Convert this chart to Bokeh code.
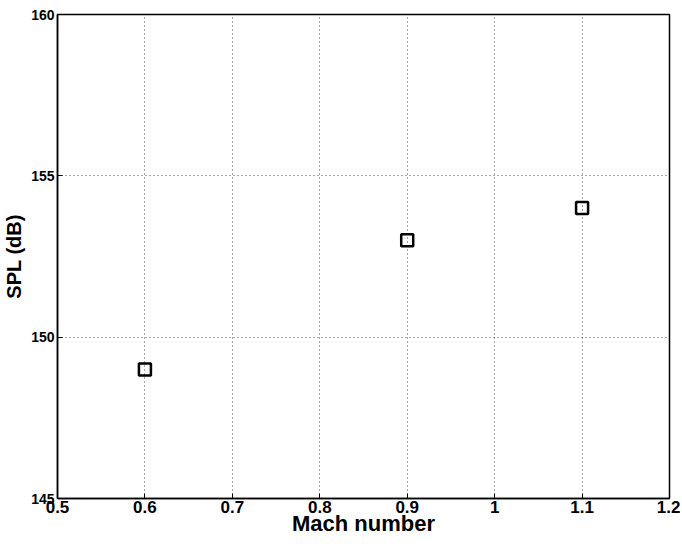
from bokeh.plotting import figure
from bokeh.models import FixedTicker, Range1d
from bokeh.embed import file_html
from bokeh.resources import INLINE

mach = [0.6, 0.9, 1.1]
spl = [149.0, 153.0, 154.0]
x_ticks = [0.5, 0.6, 0.7, 0.8, 0.9, 1.0, 1.1, 1.2]
x_labels = {0.5: "0.5", 0.6: "0.6", 0.7: "0.7", 0.8: "0.8", 0.9: "0.9", 1.0: "1", 1.1: "1.1", 1.2: "1.2"}
y_ticks = [145, 150, 155, 160]

p = figure(width=680, height=544, output_backend="svg", toolbar_location=None,
           x_range=Range1d(0.5, 1.2), y_range=Range1d(145, 160),
           min_border_left=54, min_border_top=14, min_border_right=11, min_border_bottom=46)
p.background_fill_color = "white"
p.border_fill_color = "white"
p.outline_line_color = "black"
p.outline_line_width = 1.5

for ax in (p.xaxis[0], p.yaxis[0]):
    ax.axis_line_color = "black"
    ax.axis_line_width = 1.5
    ax.major_tick_in = 5
    ax.major_tick_out = 0
    ax.minor_tick_line_color = None
    ax.major_label_text_font = "Liberation Sans"
    ax.major_label_text_font_style = "bold"
    ax.major_label_text_color = "black"
    ax.axis_label_text_font = "Liberation Sans"
    ax.axis_label_text_font_style = "bold"
    ax.axis_label_text_color = "black"

p.xaxis.ticker = FixedTicker(ticks=x_ticks)
p.xaxis.major_label_overrides = x_labels
p.yaxis.ticker = FixedTicker(ticks=y_ticks)
p.xaxis.major_label_text_font_size = "17px"
p.yaxis.major_label_text_font_size = "14px"
p.xaxis.major_label_standoff = 2
p.yaxis.major_label_standoff = 3
p.xaxis.axis_label = "Mach number"
p.yaxis.axis_label = "SPL (dB)"
p.xaxis.axis_label_text_font_size = "22px"
p.yaxis.axis_label_text_font_size = "20px"
p.xaxis.axis_label_standoff = -5
p.yaxis.axis_label_standoff = 3

p.grid.grid_line_color = "black"
p.grid.grid_line_dash = "1 3"
p.grid.grid_line_width = 1
p.grid.grid_line_alpha = 0.7

p.scatter(mach, spl, marker="square", size=12, fill_color=None,
          line_color="black", line_width=2.5)

open("out.html", "w").write(file_html(p, INLINE))
